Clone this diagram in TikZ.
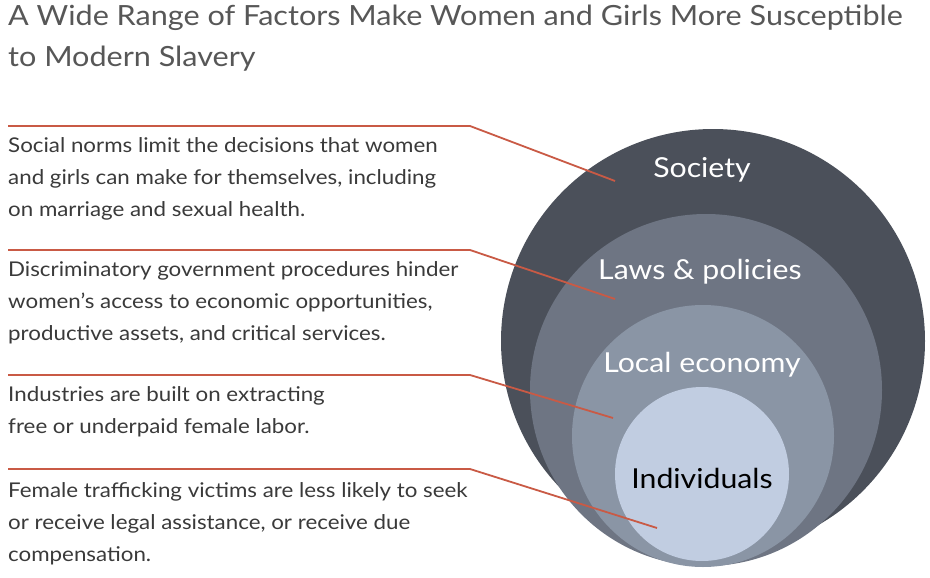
\documentclass[tikz,border=0pt]{standalone}
\usepackage{fontspec}
\setmainfont{Lato}[FakeStretch=1.1]
\definecolor{c1}{HTML}{4B505A}
\definecolor{c2}{HTML}{6E7583}
\definecolor{c3}{HTML}{8A95A5}
\definecolor{c4}{HTML}{C1CDE1}
\definecolor{ln}{HTML}{C95A45}
\definecolor{tx}{HTML}{3A3A3A}
\begin{document}
\begin{tikzpicture}[x=1pt,y=-1pt,
  desc/.style={anchor=north west,align=left,text=tx,font=\fontsize{20.3}{32}\selectfont,inner sep=0pt},
  lab/.style={font=\fontsize{27.5}{30}\selectfont,text=white},
  con/.style={draw=ln,line width=1.8pt}]
\useasboundingbox (0,0) rectangle (930,578);
\fill[white] (0,0) rectangle (930,578);
\node[anchor=north west,align=left,text=tx!85,font=\fontsize{27.8}{41}\selectfont,inner sep=0pt] (title) at (8,5) {A Wide Range of Factors Make Women and Girls More Susceptible\\to Modern Slavery};
\fill[c1] (713,341) circle (212);
\fill[c2] (706,390) circle (176);
\fill[c3] (703,436) circle (131);
\fill[c4] (702,474) circle (87);
\node[lab] (s) at (702,170) {Society};
\node[lab] (l) at (700,272) {Laws \& policies};
\node[lab] (e) at (702,365) {Local economy};
\node[lab,text=black] (i) at (702,478) {Individuals};
\node[desc] (d1) at (8,137) {Social norms limit the decisions that women\\and girls can make for themselves, including\\on marriage and sexual health.};
\node[desc] (d2) at (8,261) {Discriminatory government procedures hinder\\women’s access to economic opportunities,\\productive assets, and critical services.};
\node[desc] (d3) at (8,386) {Industries are built on extracting\\free or underpaid female labor.};
\node[desc] (d4) at (8,482) {Female trafficking victims are less likely to seek\\or receive legal assistance, or receive due\\compensation.};
\coordinate (a1) at (8,126); \coordinate (b1) at (470,126); \coordinate (e1) at (615,181);
\coordinate (a2) at (8,250); \coordinate (b2) at (470,250); \coordinate (e2) at (615,299);
\coordinate (a3) at (8,375); \coordinate (b3) at (470,375); \coordinate (e3) at (613,418);
\coordinate (a4) at (8,469); \coordinate (b4) at (470,469); \coordinate (e4) at (657,528);
\foreach \k in {1,2,3,4} \draw[con] (a\k) -- (b\k) -- (e\k);
\end{tikzpicture}
\end{document}
